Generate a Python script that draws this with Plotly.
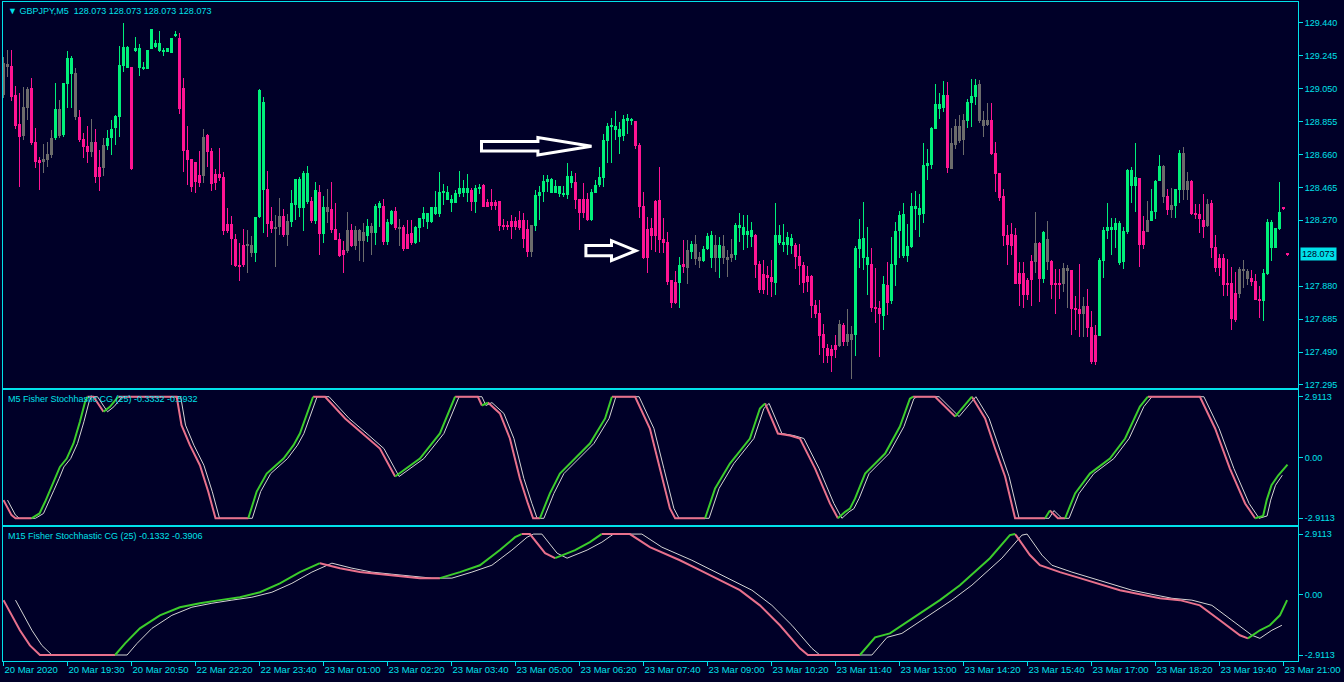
import plotly.graph_objects as go

# ---------------- DATA ----------------
symbol_header = "▼ GBPJPY,M5  128.073 128.073 128.073 128.073"
ind1_title = "M5 Fisher Stochhastic CG (25) -0.3332 -0.5932"
ind2_title = "M15 Fisher Stochhastic CG (25) -0.1332 -0.3906"
current_price = 128.073

time_labels = ["20 Mar 2020", "20 Mar 19:30", "20 Mar 20:50", "22 Mar 22:20", "22 Mar 23:40",
               "23 Mar 01:00", "23 Mar 02:20", "23 Mar 03:40", "23 Mar 05:00", "23 Mar 06:20",
               "23 Mar 07:40", "23 Mar 09:00", "23 Mar 10:20", "23 Mar 11:40", "23 Mar 13:00",
               "23 Mar 14:20", "23 Mar 15:40", "23 Mar 17:00", "23 Mar 18:20", "23 Mar 19:40",
               "23 Mar 21:00"]
bars_per_label = 16

price_ticks = [127.295, 127.490, 127.685, 127.880, 128.270, 128.465, 128.660,
               128.855, 129.050, 129.245, 129.440]
ind_ticks = [-2.9113, 0.0, 2.9113]
ind_ticktext = ["-2.9113", "0.00", "2.9113"]

# candle kind: g = bull (green), p = bear (pink), n = neutral (grey)
candle_kind = list(
    "nnpppnnppp" "nnngngggnp" "ppnppngggg" "ggpggggggg" "ggggpppppp"
    "nppppppppp" "pnngggppnn" "pngggggpgp" "gnppppnpnn" "ngnggpggpn"
    "pppggggggg" "gggggggpgg" "pppppppppp" "ppnggggggg" "gggppppggg"
    "ggggggggpp" "pppppppppg" "pngnngggng" "nnngggggpp" "pppgggggpp"
    "pppppppppn" "pnnggggppp" "gpgggggggg" "ggggggpnnn" "ngggnnnppp"
    "ppppppppnp" "gnpppnnppp" "npppgggggg" "ggggppnggg" "npnggnnppp"
    "pnpppppppn" "nnpppggggg" "pp")

opens = [
    129.199, 129.195, 129.184, 129.012, 128.840, 128.941, 129.047, 129.053, 128.734, 128.627,
    128.633, 128.663, 128.757, 128.759, 128.929, 128.775, 129.077, 129.136, 129.142, 128.882,
    128.751, 128.712, 128.734, 128.734, 128.586, 128.718, 128.712, 128.759, 128.819, 128.884,
    129.186, 129.174, 129.176, 129.278, 129.174, 129.168, 129.166, 129.286, 129.298, 129.274,
    129.272, 129.264, 129.262, 129.363, 129.349, 129.053, 128.686, 128.633, 128.615, 128.538,
    128.763, 128.775, 128.680, 128.544, 128.544, 128.526, 128.248, 128.248, 128.160, 128.006,
    128.124, 128.128, 128.124, 128.079, 128.290, 128.449, 128.455, 128.266, 128.230, 128.295,
    128.295, 128.266, 128.260, 128.360, 128.343, 128.343, 128.378, 128.384, 128.266, 128.437,
    128.189, 128.349, 128.337, 128.218, 128.159, 128.094, 128.212, 128.212, 128.212, 128.212,
    128.201, 128.177, 128.236, 128.195, 128.343, 128.355, 128.141, 128.248, 128.325, 128.230,
    128.230, 128.189, 128.195, 128.136, 128.224, 128.278, 128.260, 128.260, 128.307, 128.307,
    128.437, 128.390, 128.372, 128.372, 128.426, 128.431, 128.431, 128.449, 128.378, 128.455,
    128.479, 128.378, 128.378, 128.378, 128.384, 128.242, 128.242, 128.266, 128.266, 128.272,
    128.272, 128.218, 128.242, 128.236, 128.414, 128.437, 128.497, 128.432, 128.432, 128.426,
    128.420, 128.420, 128.491, 128.497, 128.396, 128.396, 128.396, 128.272, 128.432, 128.479,
    128.520, 128.739, 128.824, 128.804, 128.763, 128.769, 128.858, 128.858, 128.858, 128.716,
    128.355, 128.218, 128.224, 128.384, 128.390, 128.159, 128.141, 127.917, 127.905, 127.899,
    128.011, 128.094, 128.082, 128.130, 128.053, 128.029, 128.100, 128.047, 128.124, 128.047,
    128.118, 128.053, 128.071, 128.065, 128.224, 128.183, 128.183, 128.171, 128.183, 128.011,
    127.952, 127.946, 127.934, 127.899, 128.136, 128.124, 128.124, 128.118, 128.124, 128.059,
    128.006, 127.941, 127.941, 127.769, 127.722, 127.597, 127.515, 127.509, 127.532, 127.657,
    127.651, 127.597, 127.597, 127.591, 128.101, 128.047, 128.006, 128.012, 127.757, 127.751,
    127.704, 127.887, 127.793, 128.006, 128.207, 128.059, 128.059, 128.112, 128.337, 128.302,
    128.308, 128.592, 128.598, 128.811, 128.929, 128.935, 129.012, 128.728, 128.829, 128.829,
    128.864, 128.858, 128.965, 129.000, 129.077, 128.864, 128.864, 128.864, 128.669, 128.550,
    128.414, 128.183, 128.189, 128.183, 127.958, 127.958, 127.917, 128.029, 128.136, 128.136,
    127.922, 128.159, 128.029, 127.898, 127.898, 127.987, 127.987, 127.975, 127.750, 127.745,
    127.762, 127.762, 127.638, 127.591, 127.585, 128.031, 128.206, 128.212, 128.212, 128.017,
    128.023, 128.200, 128.473, 128.473, 128.520, 128.206, 128.271, 128.265, 128.319, 128.502,
    128.591, 128.413, 128.360, 128.354, 128.449, 128.668, 128.502, 128.502, 128.313, 128.307,
    128.271, 128.366, 128.372, 128.112, 128.046, 128.046, 127.898, 127.898, 127.839, 127.981,
    127.981, 127.969, 127.928, 127.910, 127.804, 127.792, 127.952, 128.106, 128.106, 128.218,
    128.344, 128.073]

highs = [
    129.239, 129.278, 129.278, 129.065, 129.022, 129.057, 129.057, 129.111, 128.815, 128.643,
    128.722, 128.736, 128.805, 129.081, 128.982, 129.083, 129.270, 129.243, 129.170, 128.923,
    128.785, 128.828, 128.870, 128.809, 128.686, 128.755, 128.805, 128.864, 128.893, 129.302,
    129.440, 129.302, 129.180, 129.353, 129.312, 129.207, 129.276, 129.403, 129.337, 129.391,
    129.292, 129.288, 129.349, 129.389, 129.379, 129.111, 128.828, 128.633, 128.615, 128.682,
    128.811, 128.781, 128.700, 128.572, 128.700, 128.554, 128.343, 128.296, 128.189, 128.134,
    128.221, 128.213, 128.177, 128.290, 129.047, 128.998, 128.562, 128.349, 128.301, 128.402,
    128.337, 128.307, 128.449, 128.514, 128.526, 128.562, 128.591, 128.408, 128.497, 128.479,
    128.414, 128.455, 128.497, 128.372, 128.195, 128.147, 128.319, 128.248, 128.236, 128.218,
    128.254, 128.278, 128.254, 128.366, 128.384, 128.396, 128.278, 128.331, 128.349, 128.278,
    128.242, 128.272, 128.272, 128.236, 128.284, 128.349, 128.313, 128.349, 128.443, 128.556,
    128.485, 128.473, 128.420, 128.449, 128.562, 128.508, 128.544, 128.461, 128.479, 128.485,
    128.485, 128.396, 128.455, 128.390, 128.384, 128.278, 128.266, 128.301, 128.290, 128.325,
    128.313, 128.272, 128.242, 128.449, 128.473, 128.538, 128.538, 128.520, 128.508, 128.473,
    128.473, 128.609, 128.562, 128.550, 128.396, 128.491, 128.432, 128.455, 128.508, 128.585,
    128.781, 128.846, 128.875, 128.917, 128.852, 128.893, 128.899, 128.875, 128.858, 128.727,
    128.437, 128.289, 128.284, 128.390, 128.585, 128.284, 128.201, 127.917, 127.970, 128.053,
    128.153, 128.153, 128.147, 128.183, 128.082, 128.118, 128.195, 128.207, 128.183, 128.171,
    128.183, 128.094, 128.159, 128.254, 128.313, 128.301, 128.301, 128.260, 128.189, 128.029,
    128.035, 127.999, 128.035, 128.372, 128.242, 128.248, 128.201, 128.189, 128.136, 128.130,
    128.024, 127.999, 127.947, 127.799, 127.799, 127.657, 127.538, 127.532, 127.591, 127.680,
    127.662, 127.745, 127.645, 128.118, 128.278, 128.379, 128.231, 128.106, 127.988, 127.793,
    127.941, 128.024, 128.172, 128.260, 128.325, 128.373, 128.248, 128.432, 128.444, 128.426,
    128.728, 128.692, 128.823, 129.077, 129.024, 129.095, 129.089, 128.817, 128.870, 128.894,
    128.900, 128.988, 129.107, 129.107, 129.101, 128.917, 128.965, 128.965, 128.734, 128.550,
    128.456, 128.243, 128.254, 128.225, 128.024, 128.024, 127.929, 128.065, 128.320, 128.142,
    128.207, 128.265, 128.035, 127.981, 127.981, 128.017, 128.005, 127.975, 127.821, 128.011,
    127.815, 127.863, 127.733, 127.650, 128.046, 128.230, 128.372, 128.283, 128.283, 128.265,
    128.230, 128.573, 128.585, 128.727, 128.520, 128.295, 128.384, 128.455, 128.508, 128.656,
    128.597, 128.455, 128.461, 128.455, 128.686, 128.703, 128.555, 128.508, 128.366, 128.366,
    128.425, 128.396, 128.390, 128.182, 128.070, 128.070, 128.040, 127.993, 127.963, 127.993,
    128.035, 127.981, 127.975, 127.952, 127.881, 127.981, 128.277, 128.271, 128.224, 128.496,
    128.344, 128.073]

lows = [
    128.992, 129.120, 128.978, 128.809, 128.469, 128.746, 128.864, 128.716, 128.578, 128.450,
    128.548, 128.588, 128.637, 128.746, 128.755, 128.765, 128.937, 128.933, 128.864, 128.736,
    128.637, 128.611, 128.647, 128.493, 128.446, 128.534, 128.686, 128.657, 128.716, 128.765,
    129.150, 129.170, 128.568, 129.268, 129.126, 129.160, 129.166, 129.286, 129.292, 129.268,
    129.243, 129.264, 129.262, 129.357, 128.897, 128.558, 128.479, 128.440, 128.430, 128.469,
    128.493, 128.588, 128.446, 128.450, 128.505, 128.183, 128.197, 128.006, 127.996, 127.913,
    127.992, 127.960, 128.055, 128.025, 128.282, 128.193, 128.173, 128.193, 127.995, 128.183,
    128.173, 128.120, 128.232, 128.272, 128.291, 128.207, 128.366, 128.256, 128.248, 128.065,
    128.134, 128.252, 128.197, 128.153, 128.055, 127.960, 128.078, 128.112, 128.094, 128.029,
    128.023, 128.143, 128.065, 128.124, 128.232, 128.124, 128.124, 128.242, 128.212, 128.118,
    128.088, 128.100, 128.124, 128.130, 128.141, 128.230, 128.218, 128.254, 128.301, 128.291,
    128.360, 128.390, 128.319, 128.372, 128.408, 128.408, 128.378, 128.325, 128.313, 128.426,
    128.349, 128.349, 128.331, 128.331, 128.207, 128.212, 128.212, 128.159, 128.212, 128.212,
    128.106, 128.055, 128.055, 128.209, 128.272, 128.378, 128.437, 128.432, 128.432, 128.408,
    128.408, 128.396, 128.461, 128.337, 128.212, 128.284, 128.266, 128.266, 128.432, 128.469,
    128.467, 128.607, 128.607, 128.745, 128.662, 128.739, 128.781, 128.834, 128.692, 128.284,
    128.039, 127.958, 128.094, 128.082, 128.076, 128.076, 127.887, 127.751, 127.774, 127.751,
    127.956, 127.893, 128.041, 128.005, 127.988, 128.023, 128.094, 127.988, 127.964, 127.928,
    128.011, 127.934, 128.023, 128.035, 128.141, 128.094, 128.106, 128.112, 127.928, 127.840,
    127.834, 127.828, 127.816, 127.828, 128.124, 128.085, 128.065, 128.071, 127.982, 127.887,
    127.840, 127.846, 127.692, 127.692, 127.473, 127.426, 127.426, 127.372, 127.455, 127.520,
    127.526, 127.526, 127.331, 127.467, 127.988, 127.976, 127.828, 127.728, 127.662, 127.461,
    127.621, 127.710, 127.775, 127.881, 128.047, 128.047, 128.024, 128.106, 128.213, 128.172,
    128.254, 128.509, 128.574, 128.811, 128.870, 128.911, 128.550, 128.574, 128.692, 128.728,
    128.657, 128.817, 128.823, 128.953, 128.846, 128.763, 128.829, 128.657, 128.438, 128.385,
    128.118, 128.006, 128.065, 127.893, 127.763, 127.751, 127.799, 127.763, 127.958, 127.787,
    127.899, 127.975, 127.804, 127.715, 127.804, 127.845, 127.750, 127.591, 127.620, 127.579,
    127.579, 127.579, 127.419, 127.413, 127.585, 127.928, 128.159, 128.064, 128.106, 128.005,
    127.981, 128.188, 128.372, 128.319, 127.993, 128.100, 128.200, 128.265, 128.277, 128.502,
    128.372, 128.301, 128.283, 128.283, 128.372, 128.390, 128.390, 128.301, 128.277, 128.194,
    128.165, 128.230, 128.046, 127.963, 127.940, 127.821, 127.821, 127.620, 127.668, 127.810,
    127.869, 127.887, 127.881, 127.798, 127.691, 127.673, 127.946, 128.029, 128.106, 128.212,
    128.335, 128.064]

closes = [
    129.012, 129.180, 129.002, 128.830, 128.765, 128.769, 128.937, 128.730, 128.617, 128.611,
    128.617, 128.627, 128.657, 128.929, 128.769, 129.083, 129.231, 129.231, 128.884, 128.746,
    128.706, 128.676, 128.676, 128.528, 128.528, 128.582, 128.757, 128.811, 128.888, 129.189,
    129.294, 129.294, 128.572, 129.288, 129.290, 129.178, 129.276, 129.403, 129.320, 129.320,
    129.278, 129.288, 129.349, 129.367, 128.929, 128.680, 128.627, 128.469, 128.499, 128.489,
    128.532, 128.676, 128.485, 128.493, 128.523, 128.209, 128.209, 128.158, 128.000, 127.994,
    128.004, 128.122, 128.079, 128.290, 129.041, 128.972, 128.248, 128.218, 128.218, 128.232,
    128.183, 128.183, 128.372, 128.514, 128.514, 128.550, 128.550, 128.266, 128.449, 128.189,
    128.349, 128.319, 128.212, 128.153, 128.059, 128.065, 128.088, 128.118, 128.118, 128.147,
    128.147, 128.236, 128.195, 128.355, 128.372, 128.141, 128.260, 128.325, 128.224, 128.224,
    128.100, 128.100, 128.136, 128.230, 128.284, 128.313, 128.313, 128.349, 128.349, 128.437,
    128.443, 128.437, 128.396, 128.431, 128.461, 128.461, 128.461, 128.378, 128.461, 128.467,
    128.349, 128.349, 128.355, 128.355, 128.236, 128.236, 128.230, 128.230, 128.230, 128.224,
    128.159, 128.084, 128.084, 128.420, 128.437, 128.503, 128.514, 128.514, 128.473, 128.473,
    128.432, 128.532, 128.532, 128.390, 128.313, 128.313, 128.272, 128.437, 128.479, 128.526,
    128.745, 128.828, 128.828, 128.828, 128.810, 128.870, 128.875, 128.864, 128.710, 128.349,
    128.047, 128.047, 128.177, 128.177, 128.153, 128.136, 127.905, 127.780, 127.780, 128.005,
    127.993, 127.988, 128.130, 128.041, 128.029, 128.100, 128.177, 128.183, 128.047, 128.124,
    128.047, 128.035, 128.047, 128.242, 128.242, 128.230, 128.207, 128.212, 128.005, 127.857,
    127.857, 127.928, 127.905, 128.183, 128.183, 128.141, 128.171, 128.166, 128.053, 128.000,
    127.899, 127.905, 127.763, 127.716, 127.586, 127.515, 127.467, 127.467, 127.503, 127.526,
    127.550, 127.550, 127.562, 128.106, 128.160, 128.166, 128.053, 127.751, 127.745, 127.716,
    127.893, 127.781, 128.012, 128.207, 128.302, 128.308, 128.118, 128.355, 128.355, 128.343,
    128.598, 128.610, 128.817, 128.959, 128.959, 129.012, 128.580, 128.574, 128.716, 128.740,
    128.746, 128.971, 129.006, 129.071, 128.858, 128.829, 128.834, 128.663, 128.544, 128.402,
    128.177, 128.124, 128.118, 127.893, 127.893, 127.828, 127.828, 127.917, 128.024, 127.923,
    128.202, 128.025, 127.887, 127.887, 127.892, 127.892, 127.969, 127.745, 127.739, 127.715,
    127.715, 127.632, 127.431, 127.431, 128.035, 128.212, 128.230, 128.230, 128.253, 128.253,
    128.206, 128.567, 128.567, 128.526, 128.123, 128.123, 128.200, 128.325, 128.502, 128.591,
    128.407, 128.330, 128.330, 128.455, 128.668, 128.449, 128.449, 128.307, 128.307, 128.277,
    128.230, 128.236, 128.106, 127.987, 127.987, 127.887, 127.887, 127.685, 127.679, 127.833,
    127.969, 127.922, 127.904, 127.798, 127.792, 127.958, 128.259, 128.259, 128.224, 128.319,
    128.340, 128.069]

# M5 Fisher Stochastic CG main line (bar position, value)
m5_bar = [0, 2, 3, 7, 9, 10.4, 11.6, 12.9, 14.1, 15.8, 17.5, 19.1, 20.4, 21, 22.5, 25, 26.6, 28.7,
          43.3, 44.5, 46.6, 49.1, 51.2, 53, 61.2, 63.3, 65.8, 70, 72.5, 74.1, 77.4, 80.4, 85.4,
          90.4, 94.1, 97.9, 104.1, 109.1, 111.6, 112.9, 118.6, 119.6, 121.1, 124.1, 126.6,
          129.1, 131.1, 132.4, 134.1, 136.6, 139.1, 142.9, 146.6, 150.4, 152.1, 157.9, 161.6,
          164.1, 166.6, 167.9, 175.4, 177.9, 181.6, 186.6, 189.1, 190.4, 193.6, 196.6, 199.1,
          202.9, 206.6, 208.6, 210.4, 211.6, 212.9, 215.4, 220.4, 224.1, 226.6, 227.4, 232.9,
          237.9, 241.6, 242.1, 245.4, 247.9, 250.4, 252.9, 260.4, 261.6, 263.6, 265.4, 267.9,
          271.6, 276.6, 280.4, 284.1, 286.1, 299.1, 302.9, 306.6, 310.4, 312.9, 314.9, 315.8,
          317.0, 318.7, 321.0]
m5_val = [-2.04, -2.76, -2.9113, -2.9113, -2.68, -2.12, -1.57, -1.01, -0.45, -0.05, 0.67, 1.71,
          2.67, 2.9113, 2.9113, 2.19, 2.43, 2.9113, 2.9113, 1.55, 0.59, -0.37, -1.64, -2.9113,
          -2.9113, -1.63, -0.77, -0.05, 0.59, 1.15, 2.9113, 2.9113, 1.87, 1.05, 0.43, -0.91,
          -0.05, 1.15, 2.35, 2.9113, 2.9113, 2.49, 2.63, 2.11, 0.91, -1.01, -2.20, -2.9113,
          -2.9113, -1.72, -0.77, -0.05, 0.67, 1.87, 2.9113, 2.9113, 1.39, -0.53, -2.44, -2.9113,
          -2.9113, -1.48, -0.29, 0.91, 2.35, 2.59, 1.15, 1.05, 0.91, -0.53, -2.20, -2.9113,
          -2.60, -2.45, -1.96, -0.77, 0.19, 1.48, 2.82, 2.9113, 2.9113, 1.96, 2.82, 2.9113,
          1.87, 0.43, -0.91, -2.9113, -2.9113, -2.54, -2.9113, -2.9113, -1.72, -0.77, -0.05,
          0.91, 2.44, 2.9113, 2.9113, 1.39, -0.53, -2.20, -2.9113, -2.80, -2.04, -1.33, -0.85,
          -0.34]
m5_signal_lag = 1      # signal line = main line one M5 bar earlier

# M15 Fisher Stochastic CG main line (bar position on the M5 chart, value)
m15_bar = [0, 1.6, 4.1, 6.6, 9.1, 27.9, 30.4, 34.1, 39.1, 44.1, 49.1, 54.1, 59.1, 64.1, 69.1,
           74.1, 79.1, 84.1, 89.1, 94.1, 99.1, 104.1, 109.1, 114.1, 119.1, 124.1, 127.9, 129.5,
           131.6, 135.4, 137.9, 142.9, 146.6, 149.5, 156.6, 161.6, 169.1, 174.1, 179.1, 184.1,
           189.1, 194.1, 199.1, 201.1, 214.1, 217.9, 221.6, 226.6, 234.1, 239.1, 246.6, 251.6,
           252.9, 256.6, 259.1, 264.1, 269.1, 274.1, 279.1, 284.1, 289.1, 294.1, 299.1, 304.1,
           309.1, 311.1, 314.1, 316.6, 319.1, 320.9]
m15_val = [-0.27, -0.85, -1.72, -2.45, -2.9113, -2.9113, -2.35, -1.63, -1.00, -0.61, -0.42,
           -0.27, -0.13, 0.11, 0.54, 1.08, 1.51, 1.27, 1.08, 0.98, 0.88, 0.79, 0.79, 1.08, 1.41,
           2.14, 2.76, 2.9113, 2.9113, 1.99, 1.75, 2.14, 2.52, 2.9113, 2.9113, 2.28, 1.65, 1.17,
           0.69, 0.21, -0.52, -1.48, -2.59, -2.9113, -2.9113, -2.06, -1.87, -1.24, -0.27, 0.45,
           1.75, 2.86, 2.9113, 1.90, 1.41, 1.08, 0.79, 0.50, 0.21, 0.01, -0.18, -0.27, -0.52,
           -1.24, -1.96, -2.11, -1.72, -1.48, -1.00, -0.27]
m15_signal_lag = 3     # signal line = main line one M15 bar (three M5 bars) earlier

# annotation arrows: (shaft start bar, head base bar, tip bar, price, shaft half, head half)
arrows = [(119.5, 133.6, 147.0, 128.708, 0.028, 0.052),
          (145.6, 152.0, 158.1, 128.090, 0.030, 0.059)]

# ---------------- STYLE ----------------
BG = "#000028"
CYAN = "#00e1ea"
FONT = "Liberation Sans, Arial, DejaVu Sans"
KIND_COLOR = {"g": "#00f07a", "p": "#ff1493", "n": "#6b6b6b"}
LINE_UP = "#3ccc2c"
LINE_DN = "#e8708c"
SIGNAL = "#d4d4d4"

n = len(opens)
xs = list(range(n))
colors = [KIND_COLOR[k] for k in candle_kind]

fig = go.Figure()

# wicks
fig.add_trace(go.Bar(x=xs, base=lows, y=[h - l for h, l in zip(highs, lows)],
                     width=0.25, marker=dict(color=colors, line=dict(width=0)),
                     xaxis="x", yaxis="y", hoverinfo="skip"))
# bodies
fig.add_trace(go.Bar(x=xs, base=[min(o, c) for o, c in zip(opens, closes)],
                     y=[max(abs(c - o), 0.005) for o, c in zip(opens, closes)],
                     width=0.75, marker=dict(color=colors, line=dict(width=0)),
                     xaxis="x", yaxis="y", hoverinfo="skip"))


def colored_runs(bx, vals):
    runs = []
    for i in range(len(bx) - 1):
        up = vals[i + 1] > vals[i]
        if runs and runs[-1][0] == up:
            runs[-1][1].append(bx[i + 1]); runs[-1][2].append(vals[i + 1])
        else:
            runs.append([up, [bx[i], bx[i + 1]], [vals[i], vals[i + 1]]])
    out = {True: ([], []), False: ([], [])}
    for up, rx, ry in runs:
        out[up][0].extend(rx + [None]); out[up][1].extend(ry + [None])
    return out


def add_indicator(bx, vals, lag, xa, ya):
    last = bx[-1]
    sx, sy = [], []
    for b, v in zip(bx, vals):
        if b + lag <= last:
            sx.append(b + lag); sy.append(v)
    fig.add_trace(go.Scatter(x=sx, y=sy, mode="lines", line=dict(color=SIGNAL, width=1),
                             xaxis=xa, yaxis=ya, hoverinfo="skip"))
    runs = colored_runs(bx, vals)
    fig.add_trace(go.Scatter(x=runs[False][0], y=runs[False][1], mode="lines",
                             line=dict(color=LINE_DN, width=2), xaxis=xa, yaxis=ya,
                             hoverinfo="skip"))
    fig.add_trace(go.Scatter(x=runs[True][0], y=runs[True][1], mode="lines",
                             line=dict(color=LINE_UP, width=2), xaxis=xa, yaxis=ya,
                             hoverinfo="skip"))


add_indicator(m5_bar, m5_val, m5_signal_lag, "x2", "y2")
add_indicator(m15_bar, m15_val, m15_signal_lag, "x3", "y3")

# hollow arrows
for x0, xh, xt, yc, sh, hh in arrows:
    path = (f"M {x0},{yc + sh} L {xh},{yc + sh} L {xh},{yc + hh} L {xt},{yc} "
            f"L {xh},{yc - hh} L {xh},{yc - sh} L {x0},{yc - sh} Z")
    fig.add_shape(type="path", path=path, xref="x", yref="y",
                  line=dict(color="white", width=3), fillcolor=BG, layer="above")

xrange = [-0.125, n + 1.625]
tick_bars = [i * bars_per_label for i in range(len(time_labels))]

axis_common = dict(showgrid=False, zeroline=False, showline=True, mirror=True,
                   linecolor=CYAN, linewidth=1, range=xrange, fixedrange=True)
yaxis_common = dict(showgrid=False, zeroline=False, showline=True, mirror=True,
                    linecolor=CYAN, linewidth=1, side="right", ticks="outside",
                    ticklen=4, tickcolor=CYAN, tickfont=dict(family=FONT, size=9, color=CYAN))

fig.update_layout(
    width=1344, height=682,
    margin=dict(l=3, r=46, t=2, b=21),
    paper_bgcolor=BG, plot_bgcolor=BG,
    showlegend=False, barmode="overlay", bargap=0,
    xaxis=dict(**axis_common, anchor="y", showticklabels=False, ticks=""),
    xaxis2=dict(**axis_common, anchor="y2", showticklabels=False, ticks="", matches="x"),
    xaxis3=dict(**axis_common, anchor="y3", matches="x", tickvals=tick_bars,
                ticktext=time_labels, ticks="outside", ticklen=4, tickcolor=CYAN,
                ticklabelposition="outside right", tickangle=0,
                tickfont=dict(family=FONT, size=9.5, color=CYAN)),
    yaxis=dict(**yaxis_common, domain=[0.4143, 1.0], range=[127.277, 129.5625],
               tickvals=price_ticks, ticktext=[f"{p:.3f}" for p in price_ticks]),
    yaxis2=dict(**yaxis_common, domain=[0.2064, 0.4112], range=[-3.232, 3.232],
                tickvals=ind_ticks, ticktext=ind_ticktext),
    yaxis3=dict(**yaxis_common, domain=[0.0, 0.2033], range=[-3.20, 3.25],
                tickvals=ind_ticks, ticktext=ind_ticktext),
)

# texts
fig.add_annotation(x=0, y=1, xref="paper", yref="paper", xanchor="left", yanchor="top",
                   xshift=3, yshift=-2, text=symbol_header, showarrow=False,
                   font=dict(family=FONT, size=9, color=CYAN))
fig.add_annotation(x=0, y=0.4112, xref="paper", yref="paper", xanchor="left", yanchor="top",
                   xshift=3, yshift=-2, text=ind1_title, showarrow=False,
                   font=dict(family=FONT, size=9, color=CYAN))
fig.add_annotation(x=0, y=0.2033, xref="paper", yref="paper", xanchor="left", yanchor="top",
                   xshift=3, yshift=-2, text=ind2_title, showarrow=False,
                   font=dict(family=FONT, size=9, color=CYAN))
fig.add_annotation(x=1, y=current_price, xref="paper", yref="y", xanchor="left",
                   yanchor="middle", xshift=2, text=f"{current_price:.3f}", showarrow=False,
                   bgcolor=CYAN, borderpad=1,
                   font=dict(family=FONT, size=9, color=BG))

fig.write_html("out.html", config={"displayModeBar": False},
               post_script="document.body.style.margin='0px';")
